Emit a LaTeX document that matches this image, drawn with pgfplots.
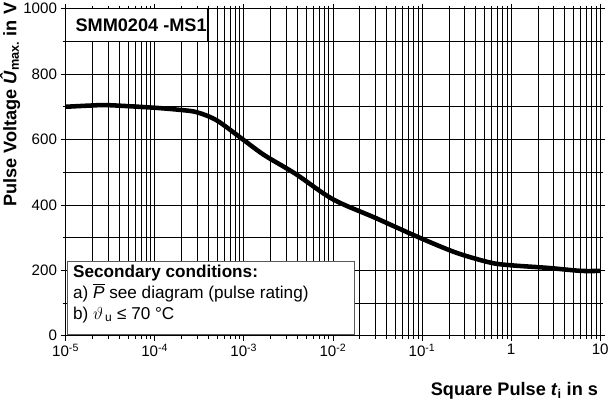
\documentclass[border=0pt]{standalone}
\usepackage{fontspec}
\setmainfont{Liberation Sans}
\usepackage{pgfplots}
\pgfplotsset{compat=1.18}
\usepackage{amsmath}

\begin{document}
\begin{tikzpicture}
\begin{axis}[
	scale only axis,
	width=530pt, height=324pt,
	xmode=log,
	xmin=1e-5, xmax=10,
	ymin=0, ymax=1000,
	xtick={1e-5,1e-4,1e-3,1e-2,1e-1,1,10},
	xticklabels={10\textsuperscript{-5},10\textsuperscript{-4},10\textsuperscript{-3},10\textsuperscript{-2},10\textsuperscript{-1},1,10},
	ytick={0,200,...,1000},
	minor ytick={100,300,...,900},
	grid=both,
	grid style={black, line width=0.6pt},
	minor grid style={black, line width=0.6pt},
	axis line style={black, line width=0.8pt},
	tick align=outside,
	major tick length=5pt,
	minor tick length=3pt,
	tick style={black, line width=0.6pt},
	/pgf/number format/assume math mode=true,
	/pgf/number format/1000 sep={},
	ticklabel style={font=\fontsize{15}{17}\selectfont},
	xlabel={\textbf{Square Pulse \textit{t}\textsubscript{i} in s}},
	xlabel style={font=\fontsize{18}{20}\selectfont, at={(rel axis cs:1,0)}, anchor=north east, yshift=-44pt, inner sep=2pt},
	ylabel={\textbf{Pulse Voltage \textit{Û}\textsubscript{max.} in V}},
	ylabel style={font=\fontsize{18}{20}\selectfont, at={(rel axis cs:0,1)}, anchor=east, xshift=6pt, yshift=55pt, inner sep=0pt},
	clip=false,
]
\addplot[black, line width=4.5pt, smooth, tension=0.5] coordinates {
	(1e-5, 700)
	(2e-5, 704)
	(3e-5, 705)
	(1e-4, 697)
	(2e-4, 690)
	(3e-4, 683)
	(5e-4, 658)
	(1e-3, 598)
	(1.7e-3, 552)
	(3.8e-3, 495)
	(1e-2, 417)
	(3e-2, 360)
	(9.3e-2, 300)
	(2.45e-1, 253)
	(5.9e-1, 223)
	(1, 215)
	(2.6, 207)
	(6, 198)
	(10, 198)
};
\draw[black, line width=0.6pt, fill=white] (rel axis cs:0,0.9) rectangle (rel axis cs:0.266,1);
\node[anchor=west, font=\fontsize{18}{20}\selectfont\bfseries] at (rel axis cs:0.012,0.95) {SMM0204 -MS1};
\draw[gray!70!black, line width=0.6pt, fill=white] (rel axis cs:0.004,0.004) rectangle (rel axis cs:0.54,0.228);
\node[anchor=north west, align=left, font=\fontsize{17}{21}\selectfont, inner sep=2pt] at (rel axis cs:0.01,0.224)
	{\textbf{Secondary conditions:}\\ a) $\overline{\mbox{\textit{P}}}$ see diagram (pulse rating)\\ b) $\vartheta$\textsubscript{\,u} ≤ 70 °C};
\end{axis}
\end{tikzpicture}
\end{document}
